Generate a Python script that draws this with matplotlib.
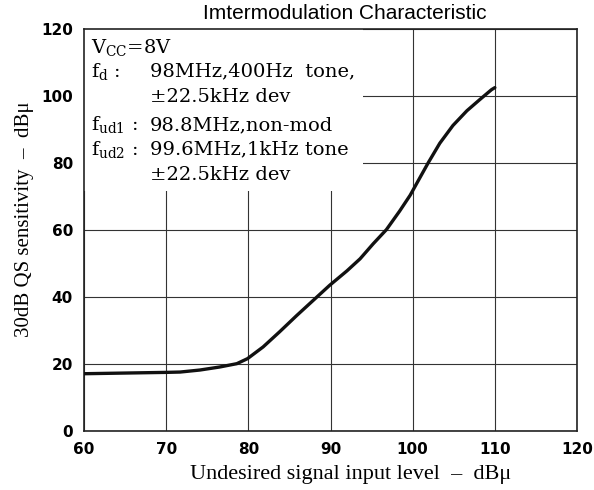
import numpy as np
import matplotlib
matplotlib.use('Agg')
import matplotlib.pyplot as plt
from matplotlib.patches import Rectangle

# curve
level_db = [60, 65, 70, 71.7, 74.1, 76.5, 78.6, 79.9, 81.8, 83.8, 85.9, 87.9,
            89.9, 92.0, 93.6, 95.2, 96.8, 98.4, 99.7, 100.9, 101.9, 103.3,
            104.9, 106.6, 108.2, 109.6, 110]
sens_db = [17.1, 17.3, 17.5, 17.6, 18.2, 19.1, 20.1, 21.6, 25.1, 29.6, 34.5, 39.0,
           43.5, 47.8, 51.4, 55.9, 60.1, 65.6, 70.4, 75.7, 80.1, 85.9,
           91.2, 95.6, 99.0, 101.9, 102.5]

x_ticks = [60, 70, 80, 90, 100, 110, 120]
y_ticks = [0, 20, 40, 60, 80, 100, 120]

cond_labels = [r'V$_\mathrm{CC}$=8V', r'f$_\mathrm{d}$ :', '',
               r'f$_\mathrm{ud1}$ :', r'f$_\mathrm{ud2}$ :', '']
cond_values = ['', '98MHz,400Hz  tone,', '\u00b122.5kHz dev',
               '98.8MHz,non-mod', '99.6MHz,1kHz tone', '\u00b122.5kHz dev']

plt.rcParams['mathtext.fontset'] = 'dejavuserif'

fig = plt.figure(figsize=(5.94, 4.90), dpi=100)
ax = fig.add_axes([0.1414, 0.1204, 0.830, 0.8204])

ax.set_xlim(60, 120)
ax.set_ylim(0, 120)
ax.set_xticks(x_ticks)
ax.set_yticks(y_ticks)
ax.set_axisbelow(True)
ax.grid(True, color='#333333', linewidth=0.8)

# white area behind the conditions text
ax.add_patch(Rectangle((60, 71.5), 33.9, 48.5, facecolor='white',
                       edgecolor='none', zorder=1))

ax.plot(level_db, sens_db, color='#111111', linewidth=2.4, zorder=3,
        solid_capstyle='round', solid_joinstyle='round')

for s in ax.spines.values():
    s.set_linewidth(1.2)
    s.set_color('#222222')

ax.tick_params(length=0, pad=8)
for lab in ax.get_xticklabels() + ax.get_yticklabels():
    lab.set_fontfamily('DejaVu Sans')
    lab.set_fontweight('bold')
    lab.set_fontsize(11)

ax.set_xlabel('Undesired signal input level  \u2013  dB\u03bc',
              fontfamily='Liberation Serif', fontsize=16)
ax.xaxis.set_label_coords(0.5416, -0.084)
ax.set_ylabel('30dB QS sensitivity  \u2013  dB\u03bc',
              fontfamily='Liberation Serif', fontsize=15)
ax.yaxis.set_label_coords(-0.101, 0.527)

fig.text(0.58, 0.972, 'Imtermodulation Characteristic', ha='center',
         va='center', fontfamily='Liberation Sans', fontsize=15)

base_y = [0.940, 0.881, 0.818, 0.749, 0.687, 0.624]
for lab, val, yy in zip(cond_labels, cond_values, base_y):
    if lab:
        ax.text(0.0142, yy, lab, transform=ax.transAxes, va='baseline',
                fontfamily='DejaVu Serif', fontsize=14, zorder=4)
    if val:
        ax.text(0.134, yy, val, transform=ax.transAxes, va='baseline',
                fontfamily='DejaVu Serif', fontsize=14, zorder=4)

fig.savefig('out.png', dpi=100)
